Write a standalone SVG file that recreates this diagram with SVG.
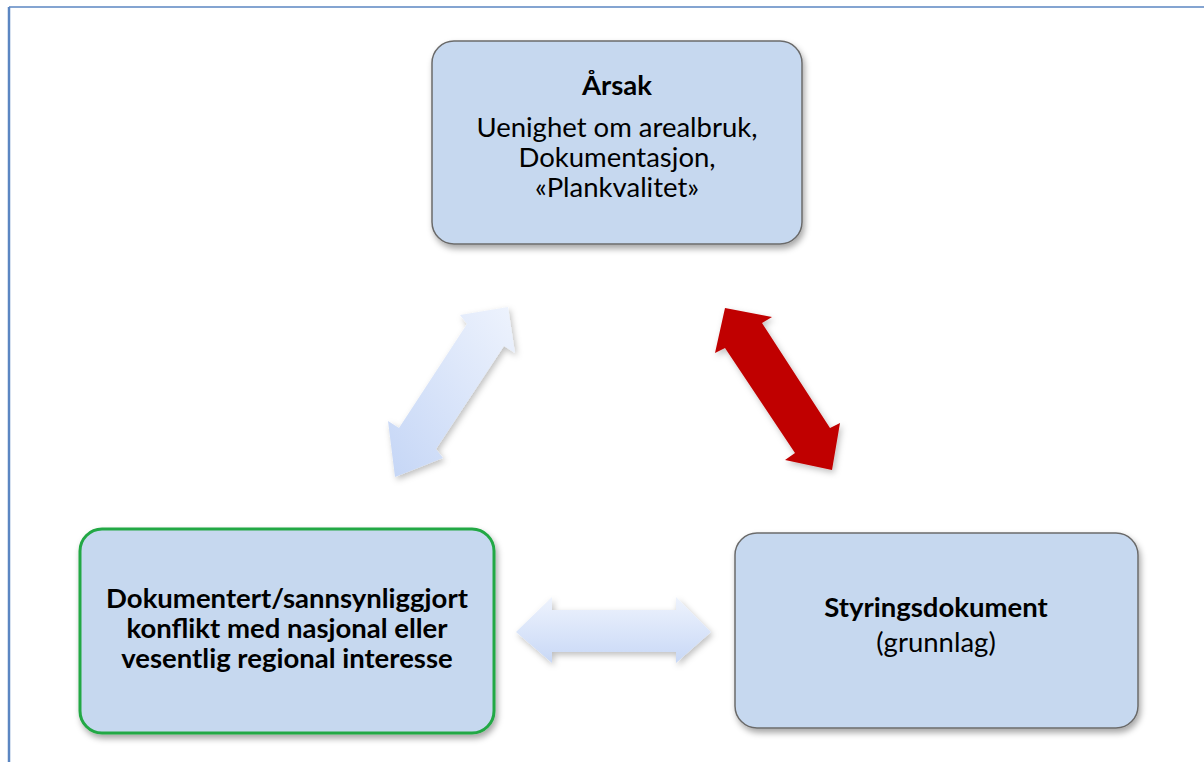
<svg xmlns="http://www.w3.org/2000/svg" width="1204" height="762" viewBox="0 0 1204 762">
<style>
.box{fill:#c6d8ef;stroke:#6b6b6b;stroke-width:1.5}
.green{stroke:#22a844;stroke-width:3}
.t{font-family:Lato,"Open Sans","Liberation Sans",sans-serif;font-size:27.5px;fill:#000;text-anchor:middle}
.b{font-weight:bold}
.frame{stroke:#5b86c2;fill:none}
</style>
<defs>
<filter id="sh" x="-10%" y="-10%" width="125%" height="130%">
<feDropShadow dx="2" dy="4" stdDeviation="3" flood-color="#000" flood-opacity="0.35"/>
</filter>
<filter id="ash" x="-20%" y="-20%" width="150%" height="150%">
<feDropShadow dx="2" dy="3" stdDeviation="3" flood-color="#000" flood-opacity="0.25"/>
</filter>
<linearGradient id="lb" x1="0" y1="0" x2="0" y2="1">
<stop offset="0" stop-color="#eef3fd"/>
<stop offset="1" stop-color="#c8d8f6"/>
</linearGradient>
<linearGradient id="lbd" x1="1" y1="0" x2="0" y2="1">
<stop offset="0" stop-color="#eef3fd"/>
<stop offset="1" stop-color="#c5d6f6"/>
</linearGradient>
</defs>
<rect width="1204" height="762" fill="#fff"/>
<line class="frame" x1="9" y1="7" x2="1204" y2="7" stroke-width="1.5"/>
<line class="frame" x1="9" y1="7" x2="9" y2="762" stroke-width="2.5"/>

<g id="connectors">
<polygon id="arrow-left" filter="url(#ash)" fill="url(#lbd)" points="508,307 515,353 504,346 436,449 443,458 395,477 388,421 399,428 467,324 460,315"/>
<polygon id="arrow-red" filter="url(#ash)" fill="#c00000" points="725,308 772,317 762,323 830,428 840,423 832,470 785,460 795,453 725,348 715,353"/>
<polygon id="arrow-bottom" filter="url(#ash)" fill="url(#lb)" points="516,632 552,597 552,610 676,610 676,597 711,632 676,663 676,652 552,652 552,663"/>
</g>

<g id="node-arsak">
<rect class="box" x="432" y="41" width="370" height="203" rx="22" filter="url(#sh)"/>
<text class="t b" x="617" y="95">Årsak</text>
<text class="t" x="617" y="137">Uenighet om arealbruk,</text>
<text class="t" x="617" y="167">Dokumentasjon,</text>
<text class="t" x="617" y="197">«Plankvalitet»</text>
</g>

<g id="node-konflikt">
<rect class="box green" x="80" y="529" width="414" height="204" rx="22" filter="url(#sh)"/>
<text class="t b" x="287" y="608">Dokumentert/sannsynliggjort</text>
<text class="t b" x="287" y="638">konflikt med nasjonal eller</text>
<text class="t b" x="287" y="668">vesentlig regional interesse</text>
</g>

<g id="node-styring">
<rect class="box" x="735" y="533" width="403" height="195" rx="22" filter="url(#sh)"/>
<text class="t b" x="936" y="617">Styringsdokument</text>
<text class="t" x="936" y="652">(grunnlag)</text>
</g>
</svg>
